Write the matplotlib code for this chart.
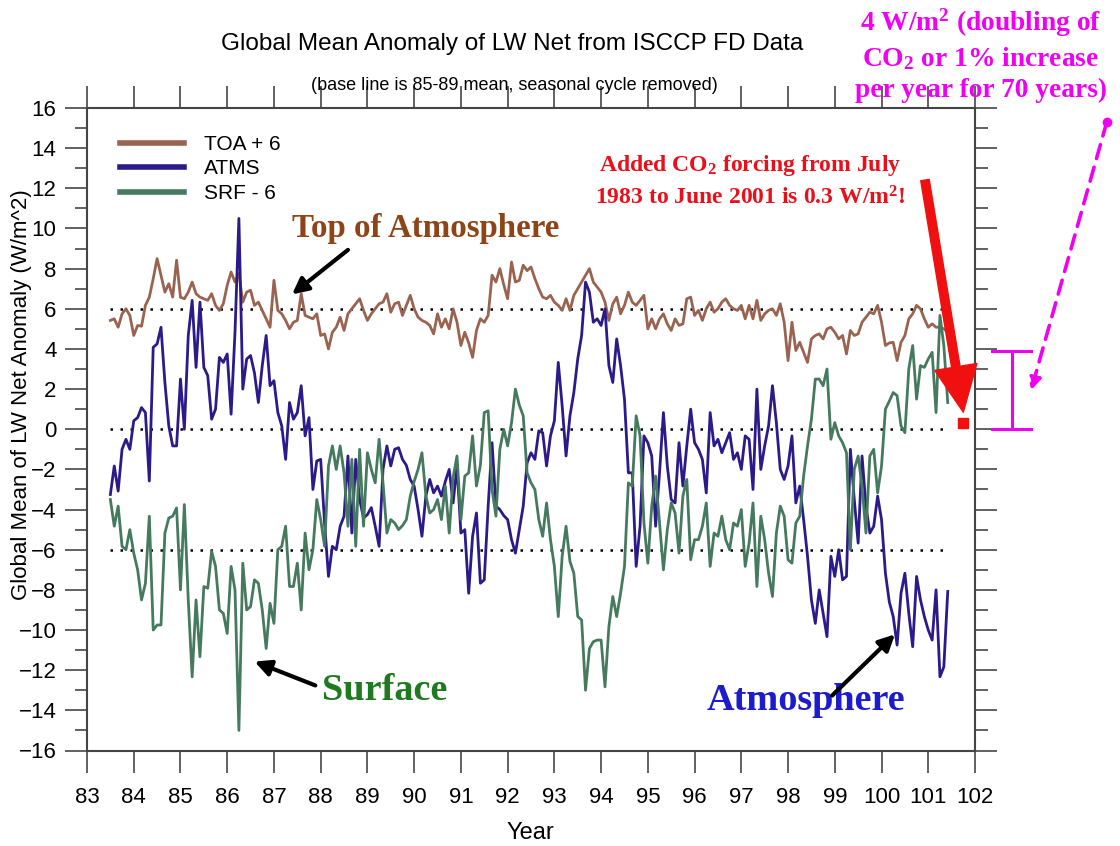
import numpy as np
import matplotlib
matplotlib.use("Agg")
import matplotlib.pyplot as plt

plt.rcParams['font.family'] = ['Liberation Sans', 'DejaVu Sans']
plt.rcParams['mathtext.fontset'] = 'custom'
plt.rcParams['mathtext.rm'] = 'Liberation Serif:bold'
plt.rcParams['mathtext.bf'] = 'Liberation Serif:bold'
plt.rcParams['mathtext.it'] = 'Liberation Serif:bold:italic'

# ---------------- data (monthly, July 1983 - June 2001) ----------------
start_year = 83.5
toa_plus6 = [
    5.42, 5.5, 5.08, 5.75, 6.0, 5.67, 4.67, 5.17, 5.13, 6.17, 6.58, 7.5, 8.5, 7.67, 6.83, 7.25, 6.58,
    8.42, 6.58, 6.5, 6.83, 7.33, 6.75, 6.58, 6.5, 6.42, 6.75, 6.17, 5.92, 6.25, 7.17, 7.83, 7.33, 7.75,
    6.33, 6.83, 6.92, 6.17, 6.33, 5.92, 5.5, 5.08, 7.42, 5.92, 5.75, 5.42, 5.0, 5.33, 5.42, 6.75, 5.67,
    5.58, 5.5, 5.75, 4.67, 4.75, 4.0, 4.83, 5.08, 5.58, 4.92, 5.75, 6.0, 6.25, 6.5, 5.92, 5.42, 5.75,
    6.0, 6.25, 6.33,
    6.75, 5.83, 6.25, 6.33, 5.67, 6.17, 6.67, 6.0, 5.58, 5.42, 5.33, 5.17, 4.75, 5.75, 5.08, 5.5, 5.0,
    6.0, 5.33, 4.17, 4.83, 4.3, 3.58, 4.92, 5.5, 5.33, 5.67, 7.67, 7.33, 8.0, 7.2, 6.5, 8.33, 7.33,
    7.42, 8.17, 7.9,
    8.08, 7.5, 7.0, 6.58, 6.5, 6.67, 6.33, 6.17, 5.92, 6.5, 5.92, 6.67, 7.0, 7.33, 7.67, 8.0, 7.33,
    7.08, 6.83, 6.33, 5.42, 6.25, 6.58, 5.75, 6.17, 6.83, 6.33, 6.17, 6.42, 6.67, 5.0, 5.5, 5.0, 5.5,
    5.75, 5.25, 4.92,
    5.5, 5.17, 5.25, 6.5, 6.58, 5.67, 5.92, 5.42, 6.0, 6.33, 5.83, 6.0, 6.33, 6.5, 6.17, 6.0, 5.92,
    6.17, 5.5, 6.17, 5.5, 6.42, 5.42, 5.75, 5.92, 6.0, 5.67, 6.25, 5.33, 3.42, 5.33, 3.92, 4.33, 3.83,
    3.33, 4.5, 4.67,
    4.75, 4.5, 5.0, 5.08, 4.83, 4.5, 4.67, 3.75, 4.92, 4.67, 4.75, 5.33, 5.58, 5.83, 5.75, 6.17, 5.33,
    4.17, 4.3, 4.33, 3.42, 4.33, 4.67, 5.5, 5.75, 6.17, 6.0, 5.5, 5.08, 5.25, 5.08, 5.08, 5.0, 4.83,
]
atms = [
    -3.25, -1.83, -3.08, -1.0, -0.5, -1.0, 0.42, 0.58, 1.08, 0.83, -2.58, 4.08, 4.25, 5.08, 2.33, 0.17,
    -0.83, -0.83, 2.5, 0.0, 4.67, 6.42, 3.08, 6.33, 3.08, 2.67, 0.5, 1.0, 3.58, 3.33, 3.75, 0.75, 4.83,
    10.5,
    2.0, 3.5, 3.67, 2.8, 1.33, 3.17, 4.67, 2.17, 2.42, 0.83, 0.17, -1.5, 1.33, 0.5, 0.83, 2.17, -0.33,
    0.58, -3.0, -1.58, -1.5, -4.67, -7.33, -5.83, -6.0, -4.83, -4.33, -1.33, -5.17, -1.5, -3.5, -4.42,
    -4.25, -3.9, -4.83, -5.83, -2.0,
    -0.83, -1.83, -1.0, -0.92, -1.5, -1.8, -2.5, -2.83, -4.0, -5.33, -3.33, -2.5, -3.17, -2.83, -3.33,
    -2.6, -2.0, -3.67, -1.83, -5.17, -5.0, -8.17, -5.33, -4.17, -7.67, -7.5, -3.83, -0.67, -3.83, -4.0,
    -4.3, -4.5, -5.5, -6.17, -5.0, -3.83, -1.67,
    -1.17, -1.5, -0.08, -0.17, -1.83, -0.33, 0.42, 3.33, 1.17, -1.33, 0.67, 1.83, 3.5, 4.67, 7.33, 6.83,
    5.33, 5.5, 5.17, 6.0, 3.17, 2.33, 4.5, 3.17, 1.5, -2.17, -2.17, -6.83, -4.83, -0.33, -0.67, -1.33,
    -4.83, -2.17, 0.83, -1.83, -3.5,
    -3.67, -0.67, -2.83, -0.83, 1.0, -0.67, -1.0, -1.5, -3.17, 0.83, -0.83, -0.5, -1.17, -0.67, -0.17,
    -1.5, -1.17, -2.0, -0.33, -0.5, -3.0, 2.0, -2.0, -0.83, 0.17, 2.17, 0.33, -2.0, -2.5, -1.83, -0.33,
    -3.67, -2.83, -4.5, -6.33, -8.5, -9.67,
    -8.0, -9.17, -10.33, -6.33, -7.33, -6.0, -7.5, -7.33, -1.0, -3.5, -5.67, -1.33, -3.83, -5.17, -4.83,
    -3.33, -4.5, -7.17, -8.6, -9.33, -10.75, -8.17, -7.17, -9.17, -10.83, -7.33, -8.5, -9.33, -10.0,
    -10.5, -8.0, -12.33, -11.83, -8.08,
]
srf_minus6 = [
    -3.5, -4.83, -3.83, -5.83, -6.0, -5.0, -6.17, -7.0, -8.5, -7.67, -4.33, -10.0, -9.75, -9.75, -5.17,
    -4.42, -4.33, -3.92, -8.0, -3.75, -8.5, -12.33, -8.5, -11.33, -7.83, -7.92, -6.08, -6.83, -9.0,
    -9.17, -10.17, -6.83, -8.0, -15.0,
    -6.67, -9.0, -8.83, -7.5, -7.67, -9.0, -10.92, -8.67, -9.67, -6.0, -5.83, -4.83, -7.83, -7.83,
    -6.67, -9.0, -5.17, -7.0, -6.0, -3.5, -4.5, -5.83, -1.83, -0.83, -2.0, -0.83, -2.17, -4.83, -1.5,
    -5.83, -1.0, -4.83, -1.17, -2.0, -2.67, -0.5, -2.67,
    -5.17, -4.5, -4.67, -5.0, -4.8, -4.5, -3.33, -2.6, -2.0, -1.17, -3.3, -4.17, -4.0, -3.5, -4.5,
    -2.83, -5.17, -2.4, -1.33, -4.5, -2.33, -2.17, -0.33, -2.83, -1.8, 0.83, 0.92, -3.0, -4.33, -1.0,
    0.0, -0.83, 0.33, 2.0, 1.2, 0.67, -2.17,
    -2.67, -3.0, -4.5, -5.33, -3.67, -5.5, -6.83, -9.33, -6.33, -4.83, -6.58, -7.17, -9.33, -9.5,
    -13.0, -10.92, -10.58, -10.5, -10.5, -12.83, -9.83, -8.33, -9.33, -8.17, -6.83, -2.67, -2.83, 0.67,
    -0.33, -4.67, -6.67, -3.83, -2.33, -4.67, -7.0, -5.0, -3.67,
    -4.17, -6.17, -3.33, -2.5, -6.5, -5.5, -5.5, -4.83, -3.67, -6.83, -5.17, -5.33, -4.33, -5.5, -6.0,
    -4.67, -4.83, -4.0, -6.83, -5.67, -3.67, -7.83, -4.33, -5.5, -7.17, -8.33, -5.17, -3.83, -4.33,
    -6.5, -6.67, -4.67, -4.33, -2.33, -0.83, 0.5, 2.5,
    2.5, 2.17, 3.0, -0.5, 0.33, -0.33, -0.67, -1.17, -6.0, -2.0, -1.33, -2.83, -5.17, -1.33, -1.0,
    -3.17, -1.83, 1.0, 1.4, 1.83, 1.67, 0.17, -0.17, 3.0, 4.17, 1.5, 3.17, 3.08, 3.5, 3.83, 0.83, 5.67,
    4.17, 1.33,
]
series_labels = ['TOA + 6', 'ATMS', 'SRF - 6']
reference_levels = [6, 0, -6]
co2_forcing = 0.3          # W/m^2, July 1983 - June 2001
doubling_forcing = 3.9     # W/m^2 bar (≈4)

x_ticks = list(range(83, 103))
y_ticks = list(range(-16, 17, 2))

# ---------------- figure ----------------
W, H = 1120, 846
fig = plt.figure(figsize=(W / 100, H / 100), dpi=100)
ax = fig.add_axes([87 / W, 1 - 750.5 / H, 888 / W, 642.5 / H])

n = len(atms)
years = start_year + np.arange(n) / 12.0

c_toa = '#9a6350'
c_atm = '#2b1a8a'
c_srf = '#457a5e'

for lvl in reference_levels:
    ax.plot([years[0], years[-1]], [lvl, lvl], color='black', lw=1.8,
            dashes=(1, 3.0), zorder=1)

l1, = ax.plot(years, toa_plus6, color=c_toa, lw=2.0, label=series_labels[0], zorder=3)
l2, = ax.plot(years, atms, color=c_atm, lw=2.0, label=series_labels[1], zorder=3)
l3, = ax.plot(years, srf_minus6, color=c_srf, lw=2.0, label=series_labels[2], zorder=3)

ax.set_xlim(83, 102)
ax.set_ylim(-16, 16)
ax.set_xticks(x_ticks)
ax.set_xticklabels([str(t) for t in x_ticks])
ax.set_yticks(y_ticks)
ax.set_yticks(range(-15, 16, 2), minor=True)
ax.tick_params(which='major', direction='out', length=16, width=1.3, color='#555555',
               top=True, right=True, labelsize=16, pad=6)
ax.tick_params(which='minor', direction='out', length=9, width=1.3, color='#555555',
               top=False, right=True)
ax.tick_params(axis='x', pad=10)
for s in ax.spines.values():
    s.set_linewidth(1.5)
    s.set_color('#444444')

leg = ax.legend(handles=[l1, l2, l3], loc='upper left', bbox_to_anchor=(0.037, 0.958),
                frameon=False, fontsize=15, handlelength=3.1, handletextpad=0.95,
                labelspacing=0.26, borderpad=0, borderaxespad=0)
for ln in leg.get_lines():
    ln.set_linewidth(4)

# titles / labels
fig.text(512 / W, 1 - 44 / H, 'Global Mean Anomaly of LW Net from ISCCP FD Data',
         ha='center', va='center', fontsize=17.5)
fig.text(514 / W, 1 - 85 / H, '(base line is 85-89 mean, seasonal cycle removed)',
         ha='center', va='center', fontsize=13)
fig.text(22 / W, 1 - 395 / H, 'Global Mean of LW Net Anomaly (W/m^2)',
         ha='center', va='center', rotation=90, fontsize=16)
fig.text(530 / W, 1 - 833 / H, 'Year', ha='center', va='center', fontsize=17)

serif = ['Liberation Serif', 'DejaVu Serif']

# region annotations
ax.text(90.24, 10.0, 'Top of Atmosphere', color='#8f4418', fontsize=23.8, fontweight='bold',
        family=serif, ha='center', va='center')
ax.annotate('', xy=(87.34, 6.63), xytext=(88.63, 9.02),
            arrowprops=dict(arrowstyle='-|>', color='black', lw=3, mutation_scale=24))
ax.text(89.38, -13.0, 'Surface', color='#1f7a1f', fontsize=27.5, fontweight='bold',
        family=serif, ha='center', va='center')
ax.annotate('', xy=(86.53, -11.52), xytext=(87.94, -12.81),
            arrowprops=dict(arrowstyle='-|>', color='black', lw=3, mutation_scale=24))
ax.text(98.38, -13.5, 'Atmosphere', color='#1c1ccc', fontsize=27.5, fontweight='bold',
        family=serif, ha='center', va='center')
ax.annotate('', xy=(100.33, -10.12), xytext=(98.9, -13.36),
            arrowprops=dict(arrowstyle='-|>', color='black', lw=3, mutation_scale=24))

# CO2 forcing annotation
ax.text(97.19, 12.36, 'Added CO$_2$ forcing from July\n1983 to June 2001 is 0.3 W/m$^2$!',
        color='#e8101a', fontsize=17, fontweight='bold', family=serif,
        ha='center', va='center', linespacing=1.45)
ax.annotate('', xy=(101.75, 0.85), xytext=(100.93, 12.41),
            arrowprops=dict(arrowstyle='simple,head_length=1.5,head_width=1.4,tail_width=0.28',
                            color='#f01010', mutation_scale=22, shrinkA=0, shrinkB=0),
            annotation_clip=False)
ax.plot([101.75], [co2_forcing], marker='s', color='#f01010', markersize=7.5,
        clip_on=False, zorder=5)

# 4 W/m^2 bar
mag = '#f000f0'
xb = 102.79
ax.plot([xb, xb], [0, doubling_forcing], color=mag, lw=2.2, clip_on=False)
ax.plot([102.37, 103.2], [0, 0], color=mag, lw=2.2, clip_on=False)
ax.plot([102.37, 103.2], [doubling_forcing, doubling_forcing], color=mag, lw=2.2, clip_on=False)
ax.annotate('', xy=(103.2, 1.94), xytext=(104.82, 15.3),
            arrowprops=dict(arrowstyle='-|>', color=mag, lw=2.6, ls=(0, (4, 2.5)),
                            mutation_scale=18, shrinkA=0, shrinkB=0),
            annotation_clip=False)
ax.plot([104.82], [15.3], marker='o', color=mag, markersize=6, clip_on=False)
fig.text(981 / W, 1 - 55 / H, '4 W/m$^2$ (doubling of\nCO$_2$ or 1% increase\nper year for 70 years)',
         color=mag, fontsize=19.8, fontweight='bold', family=serif,
         ha='center', va='center', linespacing=1.3)

fig.savefig('out.png', dpi=100)
